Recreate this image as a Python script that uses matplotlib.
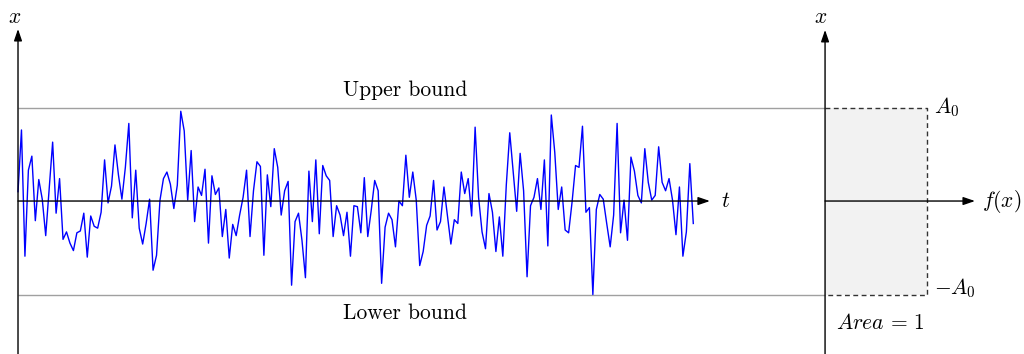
import numpy as np
import matplotlib
matplotlib.use('Agg')
import matplotlib.pyplot as plt
from matplotlib.patches import Rectangle

plt.rcParams['mathtext.fontset'] = 'cm'

# signal samples, in units of A0
signal = [
    0.10, 0.76, -0.59, 0.33, 0.48, -0.21, 0.23, 0.02, -0.37, 0.13,
    0.63, -0.13, 0.24, -0.41, -0.33, -0.45, -0.53, -0.34, -0.32, -0.13,
    -0.60, -0.16, -0.27, -0.29, -0.12, 0.44, -0.02, 0.16, 0.60, 0.28,
    0.02, 0.36, 0.83,
    -0.18, 0.33, -0.29, -0.46, -0.24, 0.02, -0.74, -0.58, 0.01, 0.24,
    0.31, 0.18, -0.08, 0.17, 0.96, 0.75, 0.01, 0.54, -0.22, 0.15,
    0.06, 0.34, -0.45, 0.27, 0.07, 0.14, -0.38, -0.09, -0.61, -0.25,
    -0.37, -0.15, 0.04,
    0.33, -0.38, 0.11, 0.42, 0.37, -0.58, 0.28, -0.06, 0.56, 0.36,
    -0.15, 0.11, 0.21, -0.90, -0.22, -0.13, -0.42, -0.82, 0.32, -0.22,
    0.44, -0.35, 0.38, 0.27, 0.22, -0.38, -0.05, -0.15, -0.37, -0.12,
    -0.59, -0.05, -0.06,
    -0.34, 0.25, -0.38, -0.10, 0.22, 0.11, -0.88, -0.28, -0.13, -0.20,
    -0.49, 0.00, -0.05, 0.49, 0.04, 0.31, 0.01, -0.69, -0.54, -0.26,
    -0.16, 0.22, -0.31, -0.22, 0.15, -0.16, -0.46, -0.20, -0.24, 0.31,
    0.08, 0.24, -0.16, 0.79,
    0.04, -0.33, -0.51, 0.08, -0.12, -0.54, -0.17, -0.59, 0.17, 0.73,
    0.31, -0.11, 0.51, 0.11, -0.81, -0.05, 0.04, 0.24, -0.09, 0.44,
    -0.48, 0.92, 0.52, -0.09, 0.15, -0.31, -0.34, -0.01, 0.38, 0.36,
    0.80, -0.12, -0.07,
    -1.00, -0.09, 0.07, 0.02, -0.24, -0.49, -0.15, 0.83, -0.34, 0.01,
    -0.42, 0.47, 0.32, 0.06, -0.02, 0.56, 0.20, 0.01, 0.06, 0.58,
    0.20, 0.11, 0.24, 0.01, -0.36, 0.15, -0.59, -0.33, 0.40, -0.24,
]
A0 = 1.0
area = 1.0
bound_labels = ['Upper bound', 'Lower bound']

t = np.arange(len(signal))
fs = 15.5
arrow = dict(arrowstyle='-|>,head_length=0.7,head_width=0.24', color='black',
             lw=1.0, shrinkA=0, shrinkB=0)

fig = plt.figure(figsize=(10.24, 3.54), dpi=100)

# left panel: time signal
ax1 = fig.add_axes([0, 0, 1, 1])
ax1.set_xlim(-5.2, 290.5)
ax1.set_ylim(-1.636, 2.15)
ax1.axis('off')

ax1.hlines([A0, -A0], 0, 233.0, color='#a0a0a0', lw=1.0)
ax1.plot(t, signal, color='#0000ff', lw=1.0)
ax1.annotate('', xy=(199.8, 0), xytext=(0, 0), arrowprops=arrow)
ax1.annotate('', xy=(0, 1.84), xytext=(0, -1.7), arrowprops=arrow,
             annotation_clip=False)
ax1.text(203.0, 0, '$t$', fontsize=fs, ha='left', va='center')
ax1.text(-1.1, 1.97, '$x$', fontsize=fs, ha='center', va='center')
ax1.text(111.8, 1.18, bound_labels[0], fontfamily='cmr10', fontsize=fs,
         ha='center', va='center')
ax1.text(111.8, -1.20, bound_labels[1], fontfamily='cmr10', fontsize=fs,
         ha='center', va='center')

# right panel: uniform density
ax2 = fig.add_axes([0, 0, 1, 1])
ax2.patch.set_alpha(0)
ax2.set_xlim(-4.056, 0.978)
ax2.set_ylim(-1.636, 2.15)
ax2.axis('off')

w = area / (2 * A0)
ax2.add_patch(Rectangle((0, -A0), w, 2 * A0, facecolor='#f2f2f2', edgecolor='none'))
ax2.plot([0, w, w, 0], [A0, A0, -A0, -A0], color='#333333', lw=1.0,
         ls=(0, (3.5, 2.5)))
ax2.annotate('', xy=(0.737, 0), xytext=(0, 0), arrowprops=arrow)
ax2.annotate('', xy=(0, 1.83), xytext=(0, -1.7), arrowprops=arrow,
             annotation_clip=False)
ax2.text(0.77, 0, '$f(x)$', fontsize=fs, ha='left', va='center')
ax2.text(-0.02, 1.97, '$x$', fontsize=fs, ha='center', va='center')
ax2.text(0.535, A0, '$A_0$', fontsize=fs, ha='left', va='center')
ax2.text(0.535, -0.93, '$-A_0$', fontsize=fs, ha='left', va='center')
ax2.text(0.27, -1.30, r'$Area\,=\,1$', fontsize=fs, ha='center', va='center')

fig.savefig('out.png', dpi=100)
